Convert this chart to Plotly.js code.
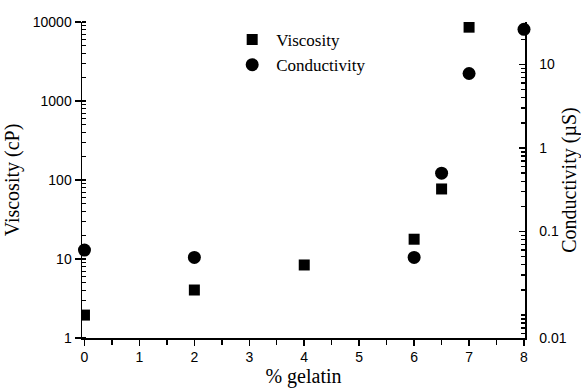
<!DOCTYPE html>
<html>
<head>
<meta charset="utf-8">
<script src="https://cdn.plot.ly/plotly-3.0.1.min.js"></script>
<style>
  html, body { margin: 0; padding: 0; background: #fff; }
  #chart { width: 581px; height: 388px; }
</style>
</head>
<body>
<div id="chart"></div>
<script>
// Gelatin concentration (%) and measured properties
const viscosityGelatin = [0, 2, 4, 6, 6.5, 7];
const viscosity = [1.95, 4.05, 8.4, 17.8, 77, 8600];          // cP

const conductivityGelatin = [0, 2, 6, 6.5, 7, 8];
const conductivity = [0.060, 0.049, 0.049, 0.50, 7.8, 26.4];  // µS

const xTickVals = [0, 1, 2, 3, 4, 5, 6, 7, 8];
const leftTickVals = [1, 10, 100, 1000, 10000];
const leftTickText = ['1', '10', '100', '1000', '10000'];
const rightTickText = ['0.01', '0.1', '1', '10'];

// conductivity axis limits (log10 units)
const rightLow = -2.275, rightHigh = 1.509;
const rightTickVals = [Math.pow(10, rightLow), 0.1, 1, 10];

// half-unit minor ticks on the gelatin axis
const xMinor = xTickVals.slice(0, -1).map(v => v + 0.5);

const tickFont = { family: 'Liberation Sans, Arial, sans-serif', size: 14, color: '#000' };
const titleFont = { family: 'Liberation Serif, Times New Roman, serif', size: 20, color: '#000' };
const minorLog = { dtick: 'D1', ticks: 'inside', ticklen: 4, tickwidth: 1.4, tickcolor: '#000', showgrid: false };

const traces = [
  {
    x: viscosityGelatin, y: viscosity, name: 'Viscosity',
    type: 'scatter', mode: 'markers', yaxis: 'y',
    marker: { symbol: 'square', size: 11, color: '#000' }
  },
  {
    x: conductivityGelatin, y: conductivity, name: 'Conductivity',
    type: 'scatter', mode: 'markers', yaxis: 'y2',
    marker: { symbol: 'circle', size: 13, color: '#000' },
    cliponaxis: false
  }
];

const layout = {
  width: 581, height: 388,
  margin: { l: 82, r: 56, t: 22, b: 50 },
  paper_bgcolor: '#fff', plot_bgcolor: '#fff',
  showlegend: true,
  legend: {
    x: 0.33, y: 1.0, xanchor: 'left', yanchor: 'top',
    bgcolor: 'rgba(0,0,0,0)',
    font: { family: 'Liberation Serif, Times New Roman, serif', size: 17, color: '#000' },
    tracegroupgap: 0, itemwidth: 38
  },
  xaxis: {
    range: [-0.045, 8.018],
    tickmode: 'array', tickvals: xTickVals,
    ticks: 'outside', ticklen: 6, tickwidth: 1.5, tickcolor: '#000',
    minor: { tickmode: 'array', tickvals: xMinor, ticks: 'outside', ticklen: 5, tickwidth: 1.4, tickcolor: '#000', showgrid: false },
    showline: true, linecolor: '#000', linewidth: 1.5,
    showgrid: false, zeroline: false,
    tickfont: tickFont,
    title: { text: '% gelatin', font: titleFont, standoff: 6 }
  },
  yaxis: {
    type: 'log', range: [0, 4],
    tickmode: 'array', tickvals: leftTickVals, ticktext: leftTickText,
    ticks: 'outside', ticklen: 6, tickwidth: 1.5, tickcolor: '#000',
    minor: minorLog,
    showline: true, linecolor: '#000', linewidth: 1.5,
    showgrid: false, zeroline: false,
    tickfont: tickFont,
    title: { text: 'Viscosity (cP)', font: titleFont, standoff: 8 }
  },
  yaxis2: {
    type: 'log', range: [rightLow, rightHigh],
    overlaying: 'y', side: 'right', anchor: 'x',
    tickmode: 'array', tickvals: rightTickVals, ticktext: rightTickText,
    ticks: 'inside', ticklen: 6, tickwidth: 1.5, tickcolor: '#000',
    ticklabelstandoff: 10,
    minor: minorLog,
    showline: true, linecolor: '#000', linewidth: 1.5,
    showgrid: false, zeroline: false,
    tickfont: tickFont,
    title: { text: 'Conductivity (µS)', font: titleFont, standoff: 0 }
  }
};

Plotly.newPlot('chart', traces, layout, { displayModeBar: false, staticPlot: true });
</script>
</body>
</html>
